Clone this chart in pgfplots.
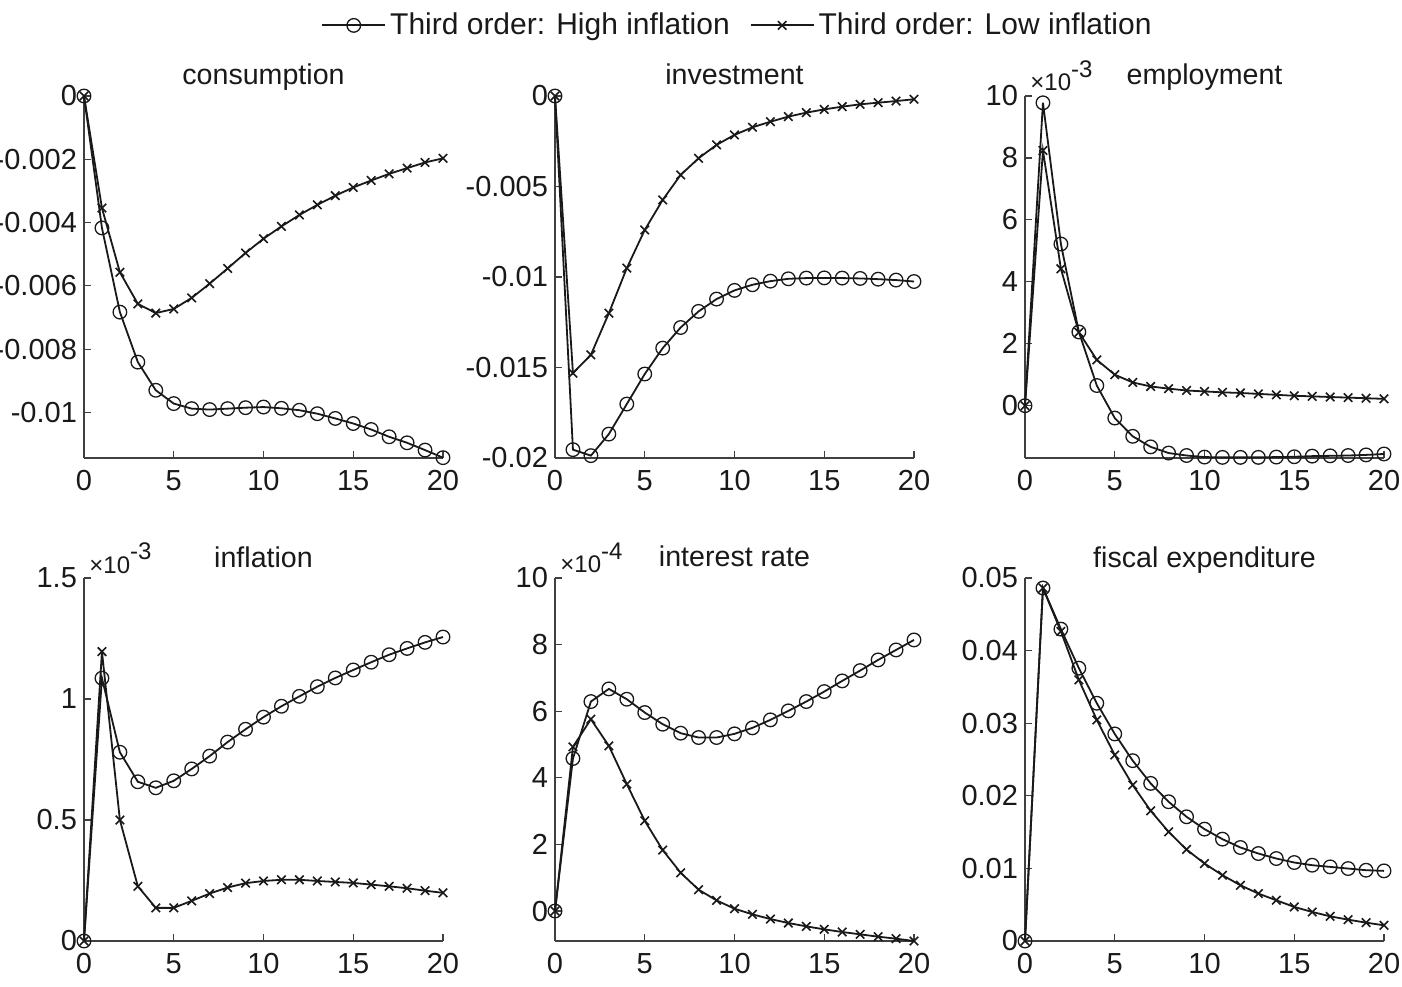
\documentclass[border=0pt]{standalone}
\usepackage{fontspec}
\setmainfont{Liberation Sans}
\usepackage{pgfplots}
\pgfplotsset{compat=1.18}
\newcommand{\scl}[1]{{\fontsize{12}{14}\selectfont ×10\raisebox{0.55em}{#1}}}
\pgfplotsset{
 panel/.style={
  scale only axis, width=179.5pt,
  axis lines=left, axis line style={-, black!75, line width=0.6pt},
  tick align=inside, tick style={black!75, line width=0.6pt}, major tick length=3.5pt,
  xmin=0, xmax=20, xtick={0,5,10,15,20},
  scaled ticks=false,
  /pgf/number format/assume math mode=true,
  ticklabel style={font=\fontsize{14.5}{16}\selectfont, text=black!90},
  xticklabel style={yshift=-2.5pt},
  title style={font=\fontsize{14.3}{16}\selectfont, text=black!90, at={(0.5,1)}, anchor=base, yshift=-0.5pt},
  clip=false,
  every axis plot/.append style={line width=0.9pt, black!90},
 },
 high/.style={mark=o, mark size=3.4pt, mark options={line width=0.65pt}},
 low/.style={mark=x, mark size=3pt, mark options={line width=0.8pt}},
}
\begin{document}
\begin{tikzpicture}
\useasboundingbox (0,0) rectangle (701pt,493pt);
% ---------- consumption
\begin{axis}[panel, height=181pt, at={(42pt,264pt)}, anchor=south west,
  title={consumption}, ymin=-0.01144, ymax=0,
  ytick={-0.01,-0.008,-0.006,-0.004,-0.002,0},
  yticklabels={-0.01,-0.008,-0.006,-0.004,-0.002,0}]
\addplot[high] coordinates {(0,0) (1,-0.00417) (2,-0.00683) (3,-0.00841) (4,-0.00930) (5,-0.00972) (6,-0.00988) (7,-0.00991) (8,-0.00988) (9,-0.00985) (10,-0.00983) (11,-0.00987) (12,-0.00993) (13,-0.01004) (14,-0.01019) (15,-0.01035) (16,-0.01054) (17,-0.01077) (18,-0.01096) (19,-0.01119) (20,-0.01143)};
\addplot[low] coordinates {(0,0) (1,-0.00354) (2,-0.00557) (3,-0.00657) (4,-0.00686) (5,-0.00673) (6,-0.00638) (7,-0.00593) (8,-0.00545) (9,-0.00496) (10,-0.00451) (11,-0.00412) (12,-0.00376) (13,-0.00344) (14,-0.00315) (15,-0.00289) (16,-0.00267) (17,-0.00246) (18,-0.00228) (19,-0.00210) (20,-0.00197)};
\end{axis}
% ---------- investment
\begin{axis}[panel, height=181pt, at={(277.5pt,264pt)}, anchor=south west,
  title={investment}, ymin=-0.02, ymax=0,
  ytick={-0.02,-0.015,-0.01,-0.005,0},
  yticklabels={-0.02,-0.015,-0.01,-0.005,0},
  legend columns=2,
  legend style={draw=none, fill=none, at={(0.511,1.195)}, anchor=center,
    font=\fontsize{15}{17}\selectfont, text=black!90,
    /tikz/every even column/.append style={column sep=8pt}},
  legend image code/.code={\draw[mark repeat=2,mark phase=2,#1] plot coordinates {(0pt,0pt) (15.75pt,0pt) (31.5pt,0pt)};}]
\addplot[high] coordinates {(0,0) (1,-0.01954) (2,-0.01987) (3,-0.01868) (4,-0.01702) (5,-0.01536) (6,-0.01393) (7,-0.01279) (8,-0.01190) (9,-0.01122) (10,-0.01074) (11,-0.01043) (12,-0.01023) (13,-0.01010) (14,-0.01006) (15,-0.01005) (16,-0.01006) (17,-0.01008) (18,-0.01012) (19,-0.01017) (20,-0.01025)};
\addlegendentry{Third order: High inflation}
\addplot[low] coordinates {(0,0) (1,-0.01531) (2,-0.01430) (3,-0.01200) (4,-0.00951) (5,-0.00740) (6,-0.00574) (7,-0.00436) (8,-0.00344) (9,-0.00270) (10,-0.00215) (11,-0.00173) (12,-0.00142) (13,-0.00114) (14,-0.00092) (15,-0.00074) (16,-0.00059) (17,-0.00046) (18,-0.00037) (19,-0.00028) (20,-0.00018)};
\addlegendentry{Third order: Low inflation}
\end{axis}
% ---------- employment (units of 1e-3)
\begin{axis}[panel, height=181pt, at={(512.5pt,264pt)}, anchor=south west,
  title={employment}, ymin=-1.69, ymax=10,
  ytick={0,2,4,6,8,10}, yticklabels={0,2,4,6,8,10},
  extra description/.code={\node[anchor=base west, inner sep=0pt, text=black!90, xshift=2.5pt, yshift=2.5pt] at (0,1) {\scl{-3}};}]
\addplot[high] coordinates {(0,0) (1,9.78) (2,5.22) (3,2.38) (4,0.65) (5,-0.40) (6,-0.99) (7,-1.33) (8,-1.53) (9,-1.61) (10,-1.66) (11,-1.67) (12,-1.67) (13,-1.67) (14,-1.66) (15,-1.65) (16,-1.63) (17,-1.62) (18,-1.61) (19,-1.59) (20,-1.56)};
\addplot[low] coordinates {(0,0) (1,8.24) (2,4.42) (3,2.37) (4,1.48) (5,1.00) (6,0.75) (7,0.62) (8,0.55) (9,0.49) (10,0.46) (11,0.43) (12,0.41) (13,0.38) (14,0.35) (15,0.32) (16,0.30) (17,0.28) (18,0.26) (19,0.24) (20,0.22)};
\end{axis}
% ---------- inflation (units of 1e-3)
\begin{axis}[panel, height=181.5pt, at={(42pt,22.5pt)}, anchor=south west,
  title={inflation}, ymin=0, ymax=1.5,
  ytick={0,0.5,1,1.5}, yticklabels={0,0.5,1,1.5},
  extra description/.code={\node[anchor=base west, inner sep=0pt, text=black!90, xshift=2.5pt, yshift=2.5pt] at (0,1) {\scl{-3}};}]
\addplot[high] coordinates {(0,0) (1,1.086) (2,0.780) (3,0.658) (4,0.633) (5,0.662) (6,0.711) (7,0.764) (8,0.822) (9,0.875) (10,0.925) (11,0.970) (12,1.011) (13,1.051) (14,1.087) (15,1.120) (16,1.152) (17,1.183) (18,1.209) (19,1.234) (20,1.256)};
\addplot[low] coordinates {(0,0) (1,1.196) (2,0.500) (3,0.226) (4,0.137) (5,0.137) (6,0.166) (7,0.196) (8,0.221) (9,0.239) (10,0.248) (11,0.253) (12,0.253) (13,0.248) (14,0.244) (15,0.240) (16,0.233) (17,0.226) (18,0.218) (19,0.208) (20,0.199)};
\end{axis}
% ---------- interest rate (units of 1e-4)
\begin{axis}[panel, height=181.5pt, at={(277.5pt,22.5pt)}, anchor=south west,
  title={interest rate}, ymin=-0.9, ymax=10,
  ytick={0,2,4,6,8,10}, yticklabels={0,2,4,6,8,10},
  extra description/.code={\node[anchor=base west, inner sep=0pt, text=black!90, xshift=2.5pt, yshift=2.5pt] at (0,1) {\scl{-4}};}]
\addplot[high] coordinates {(0,0) (1,4.58) (2,6.29) (3,6.67) (4,6.36) (5,5.96) (6,5.61) (7,5.34) (8,5.21) (9,5.21) (10,5.32) (11,5.50) (12,5.74) (13,6.01) (14,6.29) (15,6.59) (16,6.91) (17,7.22) (18,7.54) (19,7.84) (20,8.14)};
\addplot[low] coordinates {(0,0) (1,4.93) (2,5.76) (3,4.96) (4,3.81) (5,2.71) (6,1.83) (7,1.15) (8,0.64) (9,0.32) (10,0.07) (11,-0.10) (12,-0.24) (13,-0.36) (14,-0.46) (15,-0.55) (16,-0.63) (17,-0.70) (18,-0.77) (19,-0.83) (20,-0.90)};
\end{axis}
% ---------- fiscal expenditure
\begin{axis}[panel, height=181.5pt, at={(512.5pt,22.5pt)}, anchor=south west,
  title={fiscal expenditure}, ymin=0, ymax=0.05,
  ytick={0,0.01,0.02,0.03,0.04,0.05}, yticklabels={0,0.01,0.02,0.03,0.04,0.05}]
\addplot[high] coordinates {(0,0) (1,0.04862) (2,0.04296) (3,0.03758) (4,0.03275) (5,0.02852) (6,0.02484) (7,0.02171) (8,0.01918) (9,0.01711) (10,0.01541) (11,0.01403) (12,0.01288) (13,0.01205) (14,0.01136) (15,0.01081) (16,0.01044) (17,0.01021) (18,0.00998) (19,0.00975) (20,0.00966)};
\addplot[low] coordinates {(0,0) (1,0.04862) (2,0.04264) (3,0.03597) (4,0.03045) (5,0.02562) (6,0.02148) (7,0.01794) (8,0.01504) (9,0.01260) (10,0.01067) (11,0.00906) (12,0.00768) (13,0.00653) (14,0.00561) (15,0.00469) (16,0.00400) (17,0.00340) (18,0.00294) (19,0.00253) (20,0.00216)};
\end{axis}
\end{tikzpicture}
\end{document}
